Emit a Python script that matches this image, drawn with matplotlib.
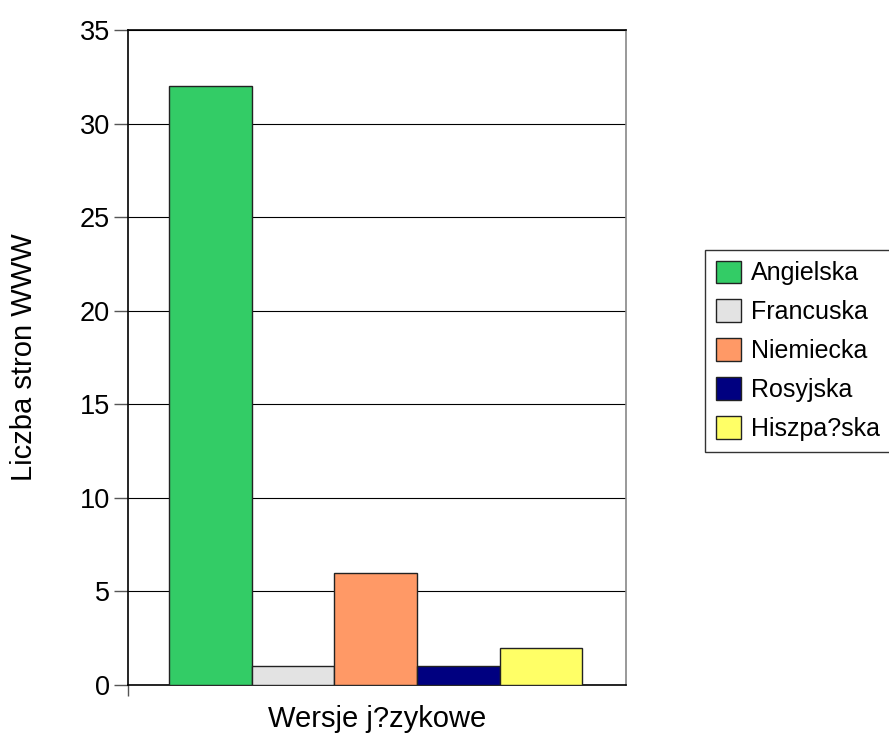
import matplotlib
matplotlib.use("Agg")
import matplotlib.pyplot as plt

plt.rcParams['font.family'] = ['Liberation Sans', 'DejaVu Sans']

languages = ["Angielska", "Francuska", "Niemiecka", "Rosyjska", "Hiszpa?ska"]
pages = [32, 1, 6, 1, 2]
colors = ["#33CC66", "#E3E3E3", "#FF9966", "#000080", "#FFFF66"]
yticks = [0, 5, 10, 15, 20, 25, 30, 35]

fig = plt.figure(figsize=(8.89, 7.34), dpi=100)
ax = fig.add_axes([128 / 889, 49 / 734, 498 / 889, 655 / 734])

for i, (lab, val, col) in enumerate(zip(languages, pages, colors)):
    ax.bar(i, val, width=1.0, color=col, edgecolor="#222222", linewidth=1.0,
           label=lab, zorder=3)

ax.set_xlim(-1.0, 5.03)
ax.set_ylim(0, 35)
ax.set_yticks(yticks)
# single category axis: one tick mark at its left end, no label
ax.set_xticks([-1.0])
ax.set_xticklabels([""])
ax.tick_params(axis="x", length=8, width=1, color="#555555")
ax.yaxis.grid(True, color="#000000", linewidth=0.8, zorder=0)
ax.tick_params(axis="y", labelsize=19.5, length=10, width=1, color="#555555", pad=3)

ax.spines["left"].set_color("#000000")
ax.spines["bottom"].set_color("#000000")
ax.spines["top"].set_color("#000000")
ax.spines["right"].set_color("#888888")
for s in ax.spines.values():
    s.set_linewidth(1.2)

ax.set_xlabel("Wersje j?zykowe", fontsize=21)
ax.xaxis.set_label_coords(0.5, -0.03)
ax.set_ylabel("Liczba stron WWW", fontsize=21)
ax.yaxis.set_label_coords(-0.18, 0.5)

leg = fig.legend(loc="upper left", bbox_to_anchor=(705 / 889, (734 - 250) / 734),
                 fontsize=18, frameon=True, fancybox=False, borderpad=0.42,
                 handlelength=1.02, handleheight=1.02, handletextpad=0.4,
                 labelspacing=0.56, borderaxespad=0)
leg.get_frame().set_edgecolor("#000000")
leg.get_frame().set_linewidth(1.0)

fig.savefig("out.png", dpi=100)
